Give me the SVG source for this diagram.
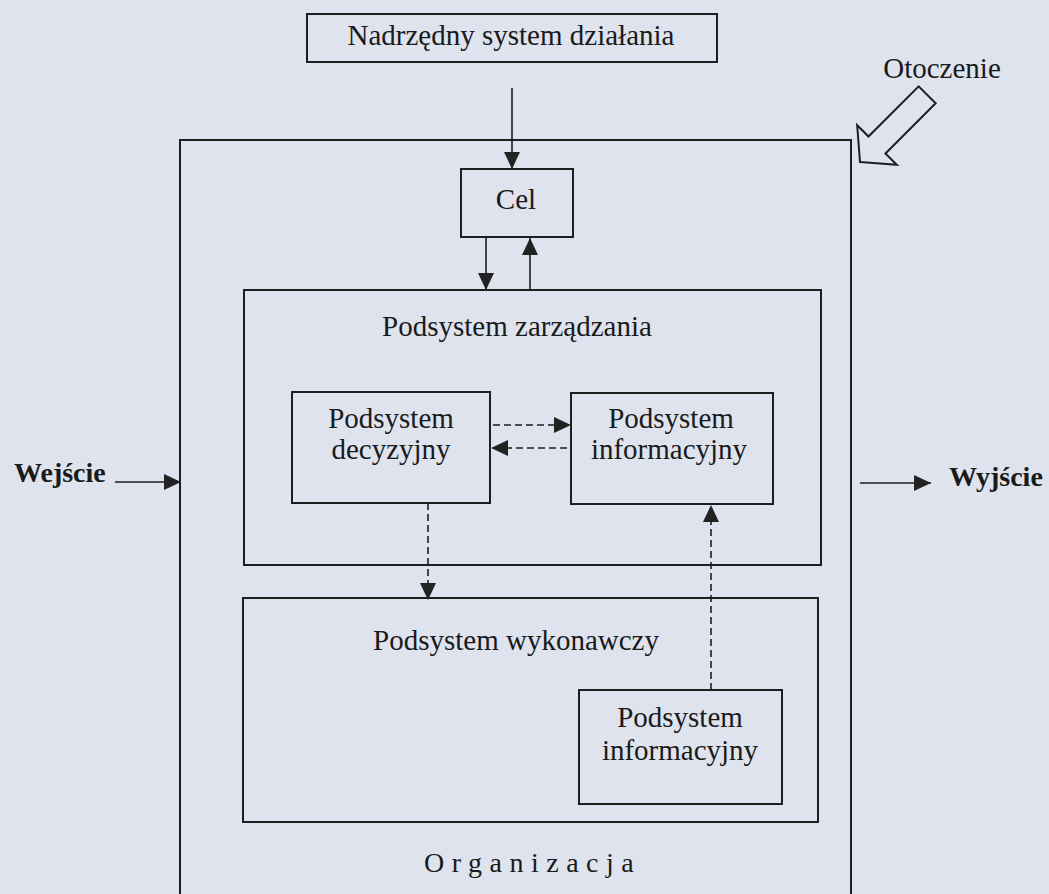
<svg xmlns="http://www.w3.org/2000/svg" width="1049" height="894" viewBox="0 0 1049 894">
  <style>
    .box { fill: none; stroke: #1e1e1e; stroke-width: 2; }
    .lbl { font-family: "Liberation Serif", "Times New Roman", serif; font-size: 29px; fill: #1a1a1a; text-anchor: middle; }
    .io { font-family: "Liberation Serif", "Times New Roman", serif; font-size: 28px; font-weight: bold; fill: #1a1a1a; }
    .link { fill: none; stroke: #1e1e1e; stroke-width: 1.6; }
    .dash { stroke-dasharray: 7 4; }
  </style>
  <defs>
    <marker id="head" markerUnits="userSpaceOnUse" markerWidth="17" markerHeight="16" refX="17" refY="8" orient="auto">
      <path d="M0,0 L17,8 L0,16 z" fill="#222"/>
    </marker>
  </defs>

  <rect width="1049" height="894" fill="#dee3ee"/>

  <!-- superior system -->
  <g id="nadrzedny">
    <rect class="box" x="307" y="14" width="410" height="48"/>
    <text class="lbl" x="511" y="45">Nadrzędny system działania</text>
  </g>

  <!-- environment label and block arrow -->
  <g id="otoczenie">
    <text class="lbl" x="942" y="78">Otoczenie</text>
    <polygon class="box" points="0,0 -24,-28 -24,-12 -95,-12 -95,12 -24,12 -24,28" transform="translate(860,162) rotate(135)" stroke-linejoin="miter"/>
  </g>

  <!-- organisation boundary -->
  <g id="organizacja">
    <rect class="box" x="180" y="140" width="671" height="780"/>
    <text x="424" y="872" font-family="Liberation Serif, Times New Roman, serif" font-size="28" letter-spacing="7.5" fill="#1a1a1a">Organizacja</text>
  </g>

  <g id="cel">
    <rect class="box" x="461" y="169" width="112" height="68"/>
    <text class="lbl" x="516" y="209">Cel</text>
  </g>

  <g id="zarzadzanie">
    <rect class="box" x="244" y="290" width="577" height="275"/>
    <text class="lbl" x="517" y="336">Podsystem zarządzania</text>
  </g>

  <g id="decyzyjny">
    <rect class="box" x="292" y="392" width="198" height="111"/>
    <text class="lbl" x="391" y="428">Podsystem</text>
    <text class="lbl" x="391" y="459">decyzyjny</text>
  </g>

  <g id="informacyjny-zarz">
    <rect class="box" x="571" y="393" width="202" height="111"/>
    <text class="lbl" x="671" y="428">Podsystem</text>
    <text class="lbl" x="669" y="459">informacyjny</text>
  </g>

  <g id="wykonawczy">
    <rect class="box" x="243" y="598" width="575" height="224"/>
    <text class="lbl" x="516" y="650">Podsystem wykonawczy</text>
  </g>

  <g id="informacyjny-wyk">
    <rect class="box" x="579" y="690" width="203" height="114"/>
    <text class="lbl" x="680" y="727">Podsystem</text>
    <text class="lbl" x="680" y="760">informacyjny</text>
  </g>

  <g id="wejscie">
    <text class="io" x="14" y="482">Wejście</text>
  </g>
  <g id="wyjscie">
    <text class="io" x="949" y="486">Wyjście</text>
  </g>

  <!-- connectors -->
  <g id="connectors">
    <line class="link" x1="512" y1="88" x2="512" y2="169" marker-end="url(#head)"/>
    <line class="link" x1="486" y1="237" x2="486" y2="290" marker-end="url(#head)"/>
    <line class="link" x1="530" y1="290" x2="530" y2="238" marker-end="url(#head)"/>
    <line class="link dash" x1="493" y1="425" x2="571" y2="425" marker-end="url(#head)"/>
    <line class="link dash" x1="567" y1="448" x2="491" y2="448" marker-end="url(#head)"/>
    <line class="link dash" x1="428" y1="503" x2="428" y2="600" marker-end="url(#head)"/>
    <line class="link dash" x1="711" y1="690" x2="711" y2="505" marker-end="url(#head)"/>
    <line class="link" x1="115" y1="482" x2="181" y2="482" marker-end="url(#head)"/>
    <line class="link" x1="860" y1="483" x2="931" y2="483" marker-end="url(#head)"/>
  </g>
</svg>
